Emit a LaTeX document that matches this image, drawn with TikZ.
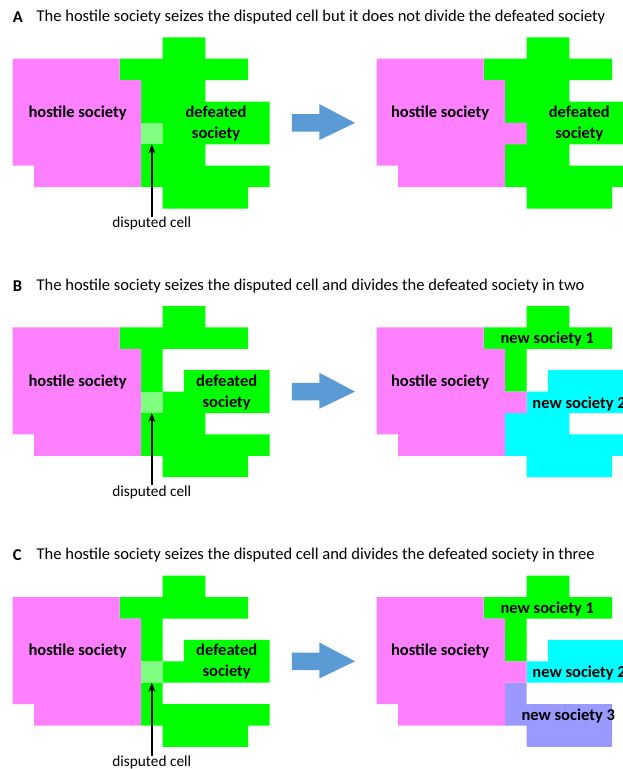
\documentclass[tikz,border=0pt]{standalone}
\usepackage{fontspec}
\setmainfont{Carlito}
\definecolor{hostpink}{HTML}{FF80FF}
\definecolor{defgreen}{HTML}{00FF00}
\definecolor{dispgreen}{HTML}{80FF80}
\definecolor{newcyan}{HTML}{00FFFF}
\definecolor{newpurple}{HTML}{9999FF}
\definecolor{arrowblue}{HTML}{5B9BD5}
\tikzset{
  pinkreg/.style={fill=hostpink},
  greenreg/.style={fill=defgreen},
  dispreg/.style={fill=dispgreen},
  cyanreg/.style={fill=newcyan},
  purplereg/.style={fill=newpurple},
  biglabel/.style={font=\fontsize{16.5}{21}\selectfont\bfseries, inner sep=0pt, align=center},
  smalllabel/.style={font=\fontsize{15.3}{17}\selectfont, inner sep=0pt},
  titletext/.style={font=\fontsize{16.5}{18}\selectfont, inner sep=0pt, anchor=west},
  titleletter/.style={font=\fontsize{16.5}{18}\selectfont\bfseries, inner sep=0pt, anchor=west},
  pointer/.style={-{Stealth[length=9pt,width=7pt]}, line width=1.5pt},
  blockarrow/.style={fill=arrowblue}
}
\usetikzlibrary{arrows.meta}
\begin{document}
\begin{tikzpicture}[x=1pt,y=-1pt]
\useasboundingbox (0,0) rectangle (623,769);
\clip (0,0) rectangle (623,769);
% ---------------- titles ----------------
\node[titleletter] (tA) at (12.7,17) {A};
\node[titletext] (ttA) at (36.5,17) {The hostile society seizes the disputed cell but it does not divide the defeated society};
\node[titleletter] (tB) at (12.7,285.7) {B};
\node[titletext] (ttB) at (36.5,285.7) {The hostile society seizes the disputed cell and divides the defeated society in two};
\node[titleletter] (tC) at (12.7,555.4) {C};
\node[titletext] (ttC) at (36.5,555.4) {The hostile society seizes the disputed cell and divides the defeated society in three};

% ================= Panel A left =================
\begin{scope}[shift={(12.7,37.3)}, x=21.4pt, y=-21.4pt]
  \fill[greenreg] (5,1)--(7,1)--(7,0)--(9,0)--(9,1)--(11,1)--(11,2)--(9,2)--(9,3)--(12,3)--(12,5)--(9,5)--(9,6)--(12,6)--(12,7)--(11,7)--(11,8)--(7,8)--(7,7)--(6,7)--(6,2)--(5,2)--cycle;
  \fill[pinkreg] (0,1)--(5,1)--(5,2)--(6,2)--(6,7)--(1,7)--(1,6)--(0,6)--cycle;
  \fill[dispreg] (6,4) rectangle (7,5);
  \coordinate (dA) at (6.5,5);
  \node[biglabel] (hA) at (3.03,3.54) {hostile society};
  \node[biglabel] (fA) at (9.5,4.03) {defeated\\society};
  \node[smalllabel] (lA) at (6.5,8.72) {disputed cell};
  \draw[pointer] (lA.north) -- (dA);
  \fill[blockarrow] (13.04,3.59)--(14.33,3.59)--(14.33,3.12)--(16.0,4.0)--(14.33,4.8)--(14.33,4.41)--(13.04,4.41)--cycle;
\end{scope}
% ================= Panel A right =================
\begin{scope}[shift={(376.7,37.3)}, x=21.4pt, y=-21.4pt]
  \fill[greenreg] (5,1)--(7,1)--(7,0)--(9,0)--(9,1)--(11,1)--(11,2)--(9,2)--(9,3)--(12,3)--(12,5)--(9,5)--(9,6)--(12,6)--(12,7)--(11,7)--(11,8)--(7,8)--(7,7)--(6,7)--(6,2)--(5,2)--cycle;
  \fill[pinkreg] (0,1)--(5,1)--(5,2)--(6,2)--(6,4)--(7,4)--(7,5)--(6,5)--(6,7)--(1,7)--(1,6)--(0,6)--cycle;
  \node[biglabel] (hA2) at (2.96,3.54) {hostile society};
  \node[biglabel] (fA2) at (9.47,4.03) {defeated\\society};
\end{scope}

% ================= Panel B left =================
\begin{scope}[shift={(12.7,306)}, x=21.4pt, y=-21.4pt]
  \fill[greenreg] (5,1)--(7,1)--(7,0)--(9,0)--(9,1)--(11,1)--(11,2)--(7,2)--(7,4)--(8,4)--(8,3)--(12,3)--(12,5)--(9,5)--(9,6)--(12,6)--(12,7)--(11,7)--(11,8)--(7,8)--(7,7)--(6,7)--(6,2)--(5,2)--cycle;
  \fill[pinkreg] (0,1)--(5,1)--(5,2)--(6,2)--(6,7)--(1,7)--(1,6)--(0,6)--cycle;
  \fill[dispreg] (6,4) rectangle (7,5);
  \coordinate (dB) at (6.5,5);
  \node[biglabel] (hB) at (3.03,3.57) {hostile society};
  \node[biglabel] (fB) at (10.0,4.06) {defeated\\society};
  \node[smalllabel] (lB) at (6.5,8.7) {disputed cell};
  \draw[pointer] (lB.north) -- (dB);
  \fill[blockarrow] (13.04,3.59)--(14.33,3.59)--(14.33,3.12)--(16.0,4.0)--(14.33,4.8)--(14.33,4.41)--(13.04,4.41)--cycle;
\end{scope}
% ================= Panel B right =================
\begin{scope}[shift={(376.7,306)}, x=21.4pt, y=-21.4pt]
  \fill[greenreg] (5,1)--(7,1)--(7,0)--(9,0)--(9,1)--(11,1)--(11,2)--(7,2)--(7,4)--(6,4)--(6,2)--(5,2)--cycle;
  \fill[cyanreg] (8,3)--(12,3)--(12,5)--(9,5)--(9,6)--(12,6)--(12,7)--(11,7)--(11,8)--(7,8)--(7,7)--(6,7)--(6,5)--(7,5)--(7,4)--(8,4)--cycle;
  \fill[pinkreg] (0,1)--(5,1)--(5,2)--(6,2)--(6,4)--(7,4)--(7,5)--(6,5)--(6,7)--(1,7)--(1,6)--(0,6)--cycle;
  \node[biglabel] (hB2) at (2.96,3.57) {hostile society};
  \node[biglabel] (n1B) at (7.97,1.56) {new society 1};
  \node[biglabel, anchor=west] (n2B) at (7.27,4.6) {new society 2};
\end{scope}

% ================= Panel C left =================
\begin{scope}[shift={(12.7,575.7)}, x=21.4pt, y=-21.4pt]
  \fill[greenreg] (5,1)--(7,1)--(7,0)--(9,0)--(9,1)--(11,1)--(11,2)--(7,2)--(7,4)--(8,4)--(8,3)--(12,3)--(12,5)--(7,5)--(7,6)--(12,6)--(12,7)--(11,7)--(11,8)--(7,8)--(7,7)--(6,7)--(6,2)--(5,2)--cycle;
  \fill[pinkreg] (0,1)--(5,1)--(5,2)--(6,2)--(6,7)--(1,7)--(1,6)--(0,6)--cycle;
  \fill[dispreg] (6,4) rectangle (7,5);
  \coordinate (dC) at (6.5,5);
  \node[biglabel] (hC) at (3.03,3.50) {hostile society};
  \node[biglabel] (fC) at (10.0,4.03) {defeated\\society};
  \node[smalllabel] (lC) at (6.5,8.72) {disputed cell};
  \draw[pointer] (lC.north) -- (dC);
  \fill[blockarrow] (13.04,3.59)--(14.33,3.59)--(14.33,3.12)--(16.0,4.0)--(14.33,4.8)--(14.33,4.41)--(13.04,4.41)--cycle;
\end{scope}
% ================= Panel C right =================
\begin{scope}[shift={(376.7,575.7)}, x=21.4pt, y=-21.4pt]
  \fill[greenreg] (5,1)--(7,1)--(7,0)--(9,0)--(9,1)--(11,1)--(11,2)--(7,2)--(7,4)--(6,4)--(6,2)--(5,2)--cycle;
  \fill[cyanreg] (8,3)--(12,3)--(12,5)--(7,5)--(7,4)--(8,4)--cycle;
  \fill[purplereg] (6,5)--(7,5)--(7,6)--(11,6)--(11,8)--(7,8)--(7,7)--(6,7)--cycle;
  \fill[pinkreg] (0,1)--(5,1)--(5,2)--(6,2)--(6,4)--(7,4)--(7,5)--(6,5)--(6,7)--(1,7)--(1,6)--(0,6)--cycle;
  \node[biglabel] (hC2) at (2.96,3.50) {hostile society};
  \node[biglabel] (n1C) at (7.97,1.56) {new society 1};
  \node[biglabel, anchor=west] (n2C) at (7.27,4.56) {new society 2};
  \node[biglabel] (n3C) at (8.95,6.55) {new society 3};
\end{scope}
\end{tikzpicture}
\end{document}
